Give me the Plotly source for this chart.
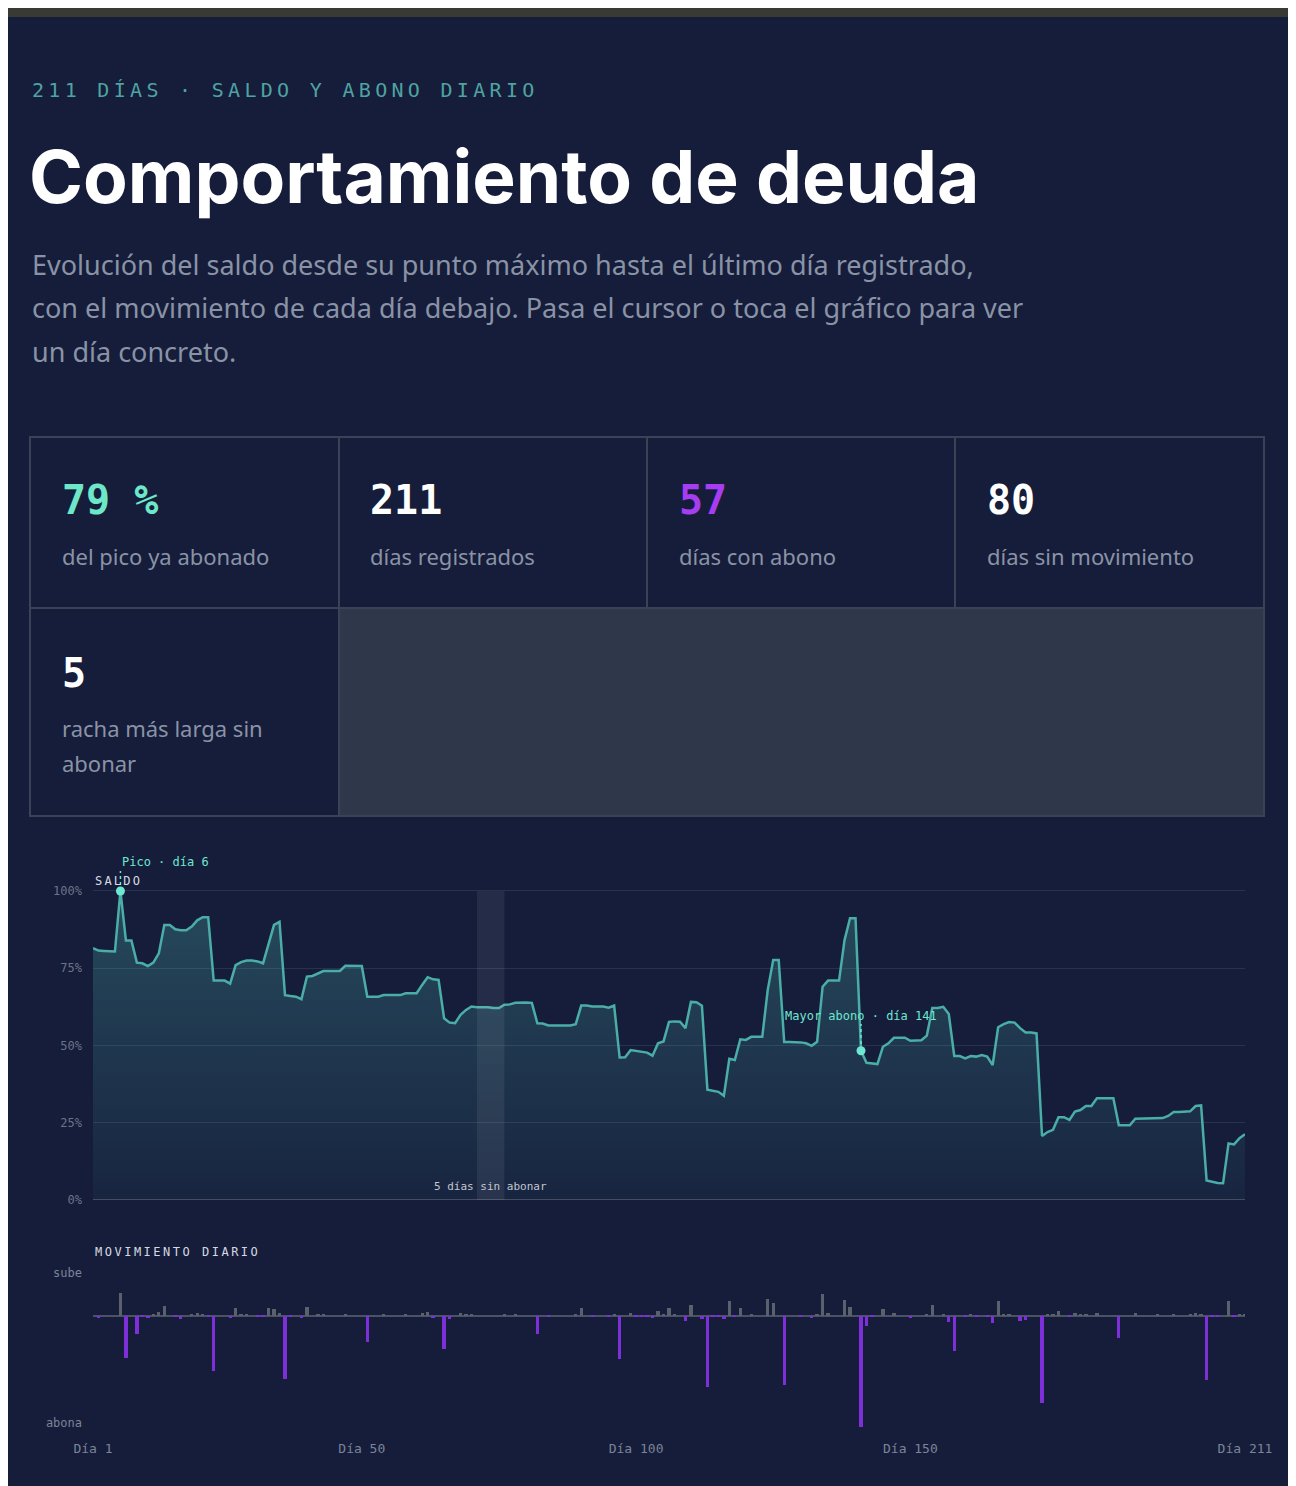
import plotly.graph_objects as go

W, H = 1296, 1486
OFF = 8  # el navegador deja 8 px de margen alrededor del gráfico

# --- datos ---------------------------------------------------------------
dias = list(range(1, 212))

# saldo en % del pico (día 1..211)
saldo = [
    81.5, 80.7, 80.6, 80.4, 80.4, 100.0, 84.0, 84.0, 76.8, 76.6,
    75.7, 76.8, 79.8, 89.0, 89.0, 87.6, 87.3, 87.3, 88.5, 90.5,
    91.5, 91.5, 71.0, 71.0, 71.0, 70.0, 76.0, 77.0, 77.5, 77.5,
    77.2, 76.6, 83.0, 89.0, 90.0, 66.3, 66.0, 65.8, 65.0, 72.3,
    72.5, 73.4, 74.1, 74.1, 74.1, 74.1, 75.8, 75.8, 75.8, 75.7,
    65.8, 65.8, 65.8, 66.3, 66.3, 66.3, 66.3, 66.9, 66.9, 66.9,
    69.6, 72.1, 71.4, 71.2, 58.8, 57.4, 57.2, 59.9, 61.5, 62.6,
    62.4, 62.4, 62.4, 62.1, 62.1, 63.2, 63.3, 63.8, 63.9, 63.9,
    63.8, 57.2, 57.1, 56.5, 56.5, 56.5, 56.5, 56.5, 56.9, 62.9,
    62.9, 62.6, 62.6, 62.6, 62.2, 62.9, 46.1, 46.2, 48.5, 48.2,
    47.8, 47.7, 46.7, 50.7, 51.3, 57.6, 57.8, 57.7, 55.6, 64.1,
    64.0, 62.9, 35.7, 35.4, 35.0, 33.7, 45.7, 45.3, 52.0, 51.8,
    52.8, 52.8, 52.8, 68.0, 77.7, 77.7, 51.1, 51.1, 51.1, 51.0,
    50.7, 49.9, 51.2, 69.0, 71.0, 71.0, 71.0, 84.1, 91.2, 91.2,
    48.3, 44.4, 44.2, 44.0, 49.6, 50.7, 52.5, 52.5, 52.5, 51.5,
    51.5, 51.7, 53.2, 62.1, 62.1, 62.5, 60.2, 46.6, 46.6, 45.8,
    46.6, 46.4, 46.9, 46.4, 43.7, 55.9, 56.9, 57.6, 57.4, 55.6,
    54.2, 54.2, 53.9, 20.7, 22.0, 22.7, 26.8, 26.8, 25.9, 28.6,
    29.1, 30.4, 30.4, 32.9, 32.9, 32.9, 32.9, 24.2, 24.2, 24.2,
    26.3, 26.3, 26.3, 26.3, 26.5, 26.5, 27.2, 28.5, 28.5, 28.5,
    28.7, 30.4, 30.6, 6.3, 5.8, 5.5, 5.4, 18.3, 18.0, 20.0,
    21.3,
]

# movimiento diario (negativo = abona, positivo = sube)
movimiento = [
    0, -0.8, 0, 0, 0, 8.9, -16.1, 0, -6.9, -0.4,
    -0.8, 0.6, 1.4, 3.7, 0, -0.4, -1.1, 0, 0.6, 1.0,
    0.6, -0.4, -21.0, 0, 0, -1.0, 2.9, 0.4, 0.3, 0,
    -0.4, -0.5, 2.9, 2.4, 0.9, -24.1, -0.4, 0, -0.8, 3.3,
    0, 0.5, 0.5, 0, 0, 0, 0.6, 0, 0, 0,
    -10.0, 0, 0, 0.3, 0, 0, 0, 0.3, 0, 0,
    0.9, 1.3, -0.8, 0, -12.8, -1.3, 0, 1.0, 0.6, 0.5,
    0, 0, 0, 0, 0, 0.5, 0, 0.3, 0, 0,
    0, -6.9, 0, -0.5, 0, 0, 0, 0, 0.3, 2.9,
    0, -0.4, 0, 0, -0.4, 0.3, -16.7, 0, 1.0, -0.4,
    -0.6, -0.4, -0.8, 1.8, 0.3, 2.9, 0.3, 0, -2.2, 4.0,
    0, -1.4, -27.2, -0.4, -0.4, -1.1, 5.5, -0.4, 3.1, 0,
    0.5, 0, 0, 6.6, 4.7, 0, -26.7, 0, 0, -0.4,
    0, -0.8, 0.5, 8.2, 0.9, 0, 0, 6.0, 3.3, 0,
    -42.8, -3.8, -0.4, 0, 2.7, 0, 0.9, 0, 0, -1.0,
    0, 0, 0.5, 4.1, 0, 0.3, -2.3, -13.4, 0, -0.6,
    0.5, -0.4, 0, -0.4, -2.7, 5.5, 0.5, 0.3, 0, -1.9,
    -1.5, 0, 0, -33.5, 0.5, 0.3, 1.7, 0, -0.5, 1.0,
    0.5, 0.5, 0, 1.0, 0, 0, 0, -8.7, 0, 0,
    0.9, 0, 0, 0, 0.3, 0, 0, 0.5, 0, 0,
    0.3, 0.9, 0.3, -24.5, -0.4, -0.4, 0, 5.7, -0.4, 0.6,
    0.5,
]

ticks_saldo = [0, 25, 50, 75, 100]
ticks_saldo_txt = ['0%', '25%', '50%', '75%', '100%']
ticks_dia = [1, 50, 100, 150, 211]
ticks_dia_txt = ['Día 1', 'Día 50', 'Día 100', 'Día 150', 'Día 211']
dia_pico = 6
dia_mayor_abono = 141
racha_sin_abonar = (71, 76)

kpi_valores = ['79 %', '211', '57', '80', '5']
kpi_textos = [['del pico ya abonado'], ['días registrados'], ['días con abono'],
              ['días sin movimiento'], ['racha más larga sin', 'abonar']]

# --- estilo --------------------------------------------------------------
BG = '#151d3b'
TEAL = '#4aaea6'
TEAL_CLARO = '#6ee7d0'
MORADO = '#7d30d8'
GRIS_BARRA = '#5a606c'
GRIS_TXT = '#8a93a5'
BORDE = '#3a4356'
MONO = 'DejaVu Sans Mono'
SANS = 'Noto Sans'
kpi_colores = ['#6ee7c9', '#ffffff', '#a63df0', '#ffffff', '#ffffff']


def px(x):
    return (x - OFF) / W


def py(y):
    return 1 - (y - OFF) / H


def espaciado(txt, ls):
    return '<span style="letter-spacing:%spx">%s</span>' % (ls, txt)


fig = go.Figure()

# saldo
fig.add_trace(go.Scatter(
    x=dias, y=saldo, mode='lines', name='Saldo',
    line=dict(color=TEAL, width=2.5),
    fill='tozeroy',
    fillgradient=dict(type='vertical', start=0, stop=100,
                      colorscale=[[0, 'rgba(79,179,169,0.05)'], [1, 'rgba(79,179,169,0.30)']]),
    hovertemplate='Día %{x}<br>%{y:.1f}%<extra></extra>',
))
fig.add_trace(go.Scatter(
    x=[dia_pico, dia_mayor_abono], y=[saldo[dia_pico - 1], saldo[dia_mayor_abono - 1]],
    mode='markers', marker=dict(size=9, color=TEAL_CLARO), cliponaxis=False, hoverinfo='skip',
))

# movimiento diario
colores = [MORADO if v < 0 else GRIS_BARRA for v in movimiento]
fig.add_trace(go.Bar(
    x=dias, y=movimiento, marker=dict(color=colores, line=dict(width=0)),
    width=0.6, xaxis='x2', yaxis='y2', cliponaxis=False,
    hovertemplate='Día %{x}<br>%{y:.1f}<extra></extra>',
))

x_dom = [px(93), px(1245)]
fig.update_layout(
    width=W, height=H, autosize=False,
    margin=dict(l=0, r=0, t=0, b=0, pad=0, autoexpand=False),
    paper_bgcolor=BG, plot_bgcolor=BG,
    showlegend=False, bargap=0,
    xaxis=dict(domain=x_dom, range=[1, 211], showgrid=False, zeroline=False,
               showticklabels=False, anchor='y', automargin=False),
    yaxis=dict(domain=[py(1200), py(878.6)], range=[0, 104], tickvals=ticks_saldo,
               ticktext=ticks_saldo_txt, showgrid=True, gridcolor='#283250', gridwidth=1,
               zeroline=False, ticks='', ticklabelstandoff=10, automargin=False,
               tickfont=dict(family=MONO, size=12, color='#6b7487'), anchor='x'),
    xaxis2=dict(domain=x_dom, range=[1, 211], showgrid=False, zeroline=False,
                tickvals=ticks_dia, ticktext=ticks_dia_txt, ticks='', ticklabelstandoff=9,
                automargin=False,
                tickfont=dict(family=MONO, size=13, color='#7c8496'), anchor='y2'),
    yaxis2=dict(domain=[py(1430), py(1268)], range=[-43.8, 18.3], showgrid=False,
                zeroline=True, zerolinecolor='#4b5263', zerolinewidth=2,
                tickvals=[16.4, -41.1], ticktext=['sube', 'abona'], ticks='', ticklabelstandoff=10,
                automargin=False,
                tickfont=dict(family=MONO, size=12, color='#7c8496'), anchor='x2'),
)

shapes = [
    # franja superior del navegador
    dict(type='rect', xref='paper', yref='paper', x0=px(0), x1=px(1296), y0=py(17), y1=py(0),
         fillcolor='#393a33', line=dict(width=0)),
    # tarjetas
    dict(type='rect', xref='paper', yref='paper', x0=px(339), x1=px(1264), y0=py(816), y1=py(608),
         fillcolor='#2f374a', line=dict(width=0)),
    dict(type='rect', xref='paper', yref='paper', x0=px(30), x1=px(1264), y0=py(816), y1=py(437),
         line=dict(color=BORDE, width=2)),
    dict(type='line', xref='paper', yref='paper', x0=px(30), x1=px(1264), y0=py(608), y1=py(608),
         line=dict(color=BORDE, width=2)),
    dict(type='line', xref='paper', yref='paper', x0=px(339), x1=px(339), y0=py(816), y1=py(437),
         line=dict(color=BORDE, width=2)),
    dict(type='line', xref='paper', yref='paper', x0=px(647), x1=px(647), y0=py(608), y1=py(437),
         line=dict(color=BORDE, width=2)),
    dict(type='line', xref='paper', yref='paper', x0=px(955), x1=px(955), y0=py(608), y1=py(437),
         line=dict(color=BORDE, width=2)),
    # línea base del saldo
    dict(type='line', xref='x', yref='y', x0=1, x1=211, y0=0, y1=0,
         line=dict(color='#454d60', width=2)),
    # racha sin abonar
    dict(type='rect', xref='x', yref='y', x0=racha_sin_abonar[0], x1=racha_sin_abonar[1], y0=0, y1=100,
         fillcolor='rgba(255,255,255,0.07)', line=dict(width=0), layer='above'),
    # guías punteadas
    dict(type='line', xref='x', yref='paper', x0=dia_pico, x1=dia_pico, y0=py(891), y1=py(871),
         line=dict(color=TEAL_CLARO, width=1.5, dash='dot')),
    dict(type='line', xref='x', yref='paper', x0=dia_mayor_abono, x1=dia_mayor_abono,
         y0=py(1050), y1=py(1024), line=dict(color=TEAL_CLARO, width=1.5, dash='dot')),
]

ann = [
    dict(text=espaciado('211 DÍAS · SALDO Y ABONO DIARIO', 4.3), x=px(30), y=py(90),
         font=dict(family=MONO, size=20, color='#4fa3a0')),
    dict(text='<b>Comportamiento de deuda</b>', x=px(27), y=py(177),
         font=dict(family='Inter', size=73, color='#ffffff')),
    dict(text='Evolución del saldo desde su punto máximo hasta el último día registrado,',
         x=px(30), y=py(264), font=dict(family=SANS, size=27, color=GRIS_TXT)),
    dict(text='con el movimiento de cada día debajo. Pasa el cursor o toca el gráfico para ver',
         x=px(30), y=py(307), font=dict(family=SANS, size=27, color=GRIS_TXT)),
    dict(text='un día concreto.', x=px(30), y=py(351), font=dict(family=SANS, size=27, color=GRIS_TXT)),
    dict(text=espaciado('SALDO', 2.2), x=px(93), y=py(881),
         font=dict(family=MONO, size=12, color='#d5d9e0')),
    dict(text=espaciado('MOVIMIENTO DIARIO', 2.5), x=px(93), y=py(1252),
         font=dict(family=MONO, size=12, color='#d5d9e0')),
    dict(text='Pico · día 6', xref='x', x=dia_pico, y=py(862),
         font=dict(family=MONO, size=12, color=TEAL_CLARO)),
    dict(text='Mayor abono · día 141', xref='x', x=dia_mayor_abono, y=py(1016), xanchor='center',
         font=dict(family=MONO, size=12, color=TEAL_CLARO)),
    dict(text='5 días sin abonar', xref='x', x=sum(racha_sin_abonar) / 2, y=py(1186), xanchor='center',
         font=dict(family=MONO, size=11, color='#c3c7cf')),
]

# tarjetas de indicadores
kpi_pos = [(60, 500, 556), (368, 500, 556), (677, 500, 556), (985, 500, 556), (60, 673, 728)]
for (x0, yv, yt), val, lineas, col in zip(kpi_pos, kpi_valores, kpi_textos, kpi_colores):
    ann.append(dict(text='<b>' + val + '</b>', x=px(x0), y=py(yv),
                    font=dict(family=MONO, size=40, color=col)))
    for i, linea in enumerate(lineas):
        ann.append(dict(text=linea, x=px(x0), y=py(yt + 35 * i),
                        font=dict(family=SANS, size=22, color=GRIS_TXT)))

for a in ann:
    a.setdefault('xref', 'paper')
    a['yref'] = 'paper'
    a.setdefault('xanchor', 'left')
    a['yanchor'] = 'middle'
    a['showarrow'] = False
    a['align'] = 'left'

fig.update_layout(shapes=shapes, annotations=ann)

fig.write_html("out.html")
